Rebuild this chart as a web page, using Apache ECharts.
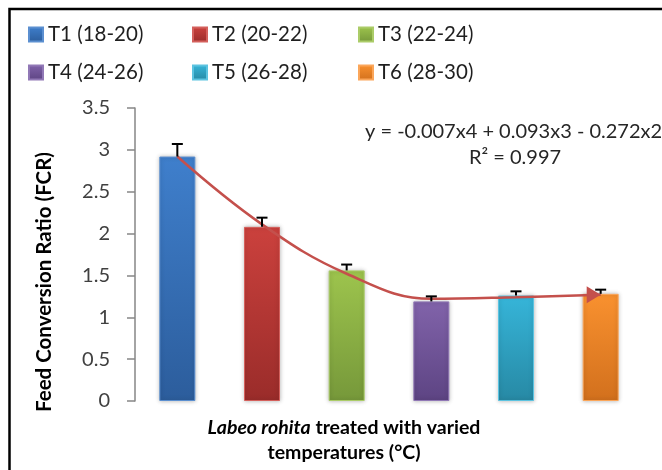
<!DOCTYPE html>
<html>
<head>
<meta charset="utf-8">
<script src="https://cdn.jsdelivr.net/npm/echarts@6/dist/echarts.min.js"></script>
<style>
  html, body { margin: 0; padding: 0; background: #fff; }
  #chart { width: 662px; height: 470px; }
</style>
</head>
<body>
<div id="chart"></div>
<script>
// Treatment groups (temperature ranges, °C)
const categories = ['T1 (18-20)', 'T2 (20-22)', 'T3 (22-24)', 'T4 (24-26)', 'T5 (26-28)', 'T6 (28-30)'];
// Mean feed conversion ratio per treatment
const fcrValues = [2.92, 2.08, 1.56, 1.19, 1.26, 1.28];
// Error bar (upper) per treatment
const errValues = [0.15, 0.11, 0.07, 0.06, 0.05, 0.05];
// Polynomial trend line evaluated at each treatment
const trendValues = [2.92, 2.11, 1.52, 1.22, 1.24, 1.27];
// Trend equation labels
const equationText = 'y = -0.007x4 + 0.093x3 - 0.272x2';
const r2Text = 'R\u00B2 = 0.997';

// Bar colours: [top, bottom, edge]
const palette = [
  ['#3f7fcc', '#2c5d9c', '#5b8fd0'],
  ['#cb413d', '#9a2c2a', '#d4605c'],
  ['#9dc44d', '#76983a', '#abcc68'],
  ['#8163aa', '#5d4483', '#9178b6'],
  ['#36b5d9', '#2789a4', '#5cc3e0'],
  ['#f9912f', '#d2701d', '#fba65a']
];

const FONT = 'Lato, "Open Sans", sans-serif';
const chart = echarts.init(document.getElementById('chart'), null, { renderer: 'canvas' });

function grad(c) {
  return new echarts.graphic.LinearGradient(0, 0, 0, 1, [
    { offset: 0, color: c[0] },
    { offset: 1, color: c[1] }
  ]);
}

const barSeries = categories.map((name, i) => ({
  name: name,
  type: 'bar',
  barWidth: 36,
  barGap: '-100%',
  z: 2,
  itemStyle: {
    color: grad(palette[i]),
    borderColor: palette[i][2],
    borderWidth: 1,
    shadowBlur: 4,
    shadowColor: 'rgba(0,0,0,0.25)'
  },
  data: categories.map((_, j) => (j === i ? fcrValues[i] : '-'))
}));

const trendData = trendValues.map((v, i) => {
  if (i === trendValues.length - 1) {
    return {
      value: v,
      symbol: 'triangle',
      symbolSize: [17, 14],
      symbolRotate: -90,
      symbolOffset: [-7, 0],
      itemStyle: { color: '#c4504c' }
    };
  }
  return v;
});

// One legend entry per treatment, laid out in a 3 x 2 grid
const legendCols = [28, 192, 358];
const legendRows = [24, 62];
const legends = categories.map((name, i) => ({
  data: [name],
  left: legendCols[i % 3],
  top: legendRows[Math.floor(i / 3)],
  itemWidth: 14,
  itemHeight: 14,
  icon: 'rect',
  selectedMode: false,
  padding: 0,
  textStyle: { fontFamily: FONT, fontSize: 20.5, color: '#1f1f1f' }
}));

chart.setOption({
  animation: false,
  backgroundColor: '#fff',
  grid: { left: 135, right: 19, top: 108, bottom: 69 },
  legend: legends,
  xAxis: {
    type: 'category',
    data: categories,
    axisLine: { show: false },
    axisTick: { show: false },
    axisLabel: { show: false },
    splitLine: { show: false }
  },
  yAxis: {
    type: 'value',
    min: 0,
    max: 3.5,
    interval: 0.5,
    axisLine: { show: true, lineStyle: { color: '#868686', width: 1.5 } },
    axisTick: { show: true, length: 8, lineStyle: { color: '#868686', width: 1.5 } },
    axisLabel: { margin: 25, fontFamily: FONT, fontSize: 20, color: '#404040' },
    splitLine: { show: false }
  },
  series: barSeries.concat([
    {
      name: 'trend',
      type: 'line',
      smooth: 0.4,
      symbol: 'none',
      z: 4,
      lineStyle: { color: '#c4504c', width: 2.5 },
      data: trendData
    },
    {
      name: 'error',
      type: 'custom',
      z: 6,
      data: fcrValues.map((v, i) => [i, v, errValues[i]]),
      renderItem: function (params, api) {
        const x = api.value(0);
        const base = api.coord([x, api.value(1)]);
        const top = api.coord([x, api.value(1) + api.value(2)]);
        const style = { stroke: '#000', lineWidth: 2 };
        return {
          type: 'group',
          children: [
            { type: 'line', shape: { x1: base[0], y1: base[1], x2: top[0], y2: top[1] }, style: style },
            { type: 'line', shape: { x1: top[0] - 5.5, y1: top[1], x2: top[0] + 5.5, y2: top[1] }, style: style }
          ]
        };
      }
    }
  ]),
  graphic: [
    {
      type: 'rect', z: 100, silent: true,
      shape: { x: 9.5, y: 9, width: 800, height: 600 },
      style: { fill: 'none', stroke: '#000', lineWidth: 2.5 }
    },
    {
      type: 'text', z: 50, x: 44, y: 282, rotation: Math.PI / 2,
      style: {
        text: 'Feed Conversion Ratio (FCR)', fontFamily: FONT, fontSize: 20.5, fontWeight: 'bold',
        fill: '#000', align: 'center', verticalAlign: 'middle'
      }
    },
    {
      type: 'text', z: 50, x: 344, y: 440,
      style: {
        text: '{i|Labeo rohita}{b| treated with varied}\n{b|temperatures (\u00B0C)}',
        align: 'center', verticalAlign: 'middle',
        rich: {
          i: { fontFamily: FONT, fontSize: 19.5, fontWeight: 'bold', fontStyle: 'italic', fill: '#000', lineHeight: 25 },
          b: { fontFamily: FONT, fontSize: 19.5, fontWeight: 'bold', fill: '#000', lineHeight: 25 }
        }
      }
    },
    {
      type: 'text', z: 50, x: 365, y: 132,
      style: {
        text: equationText, fontFamily: FONT, fontSize: 20, fill: '#262626',
        align: 'left', verticalAlign: 'middle'
      }
    },
    {
      type: 'text', z: 50, x: 515, y: 158,
      style: {
        text: r2Text, fontFamily: FONT, fontSize: 20, fill: '#262626',
        align: 'center', verticalAlign: 'middle'
      }
    }
  ]
});
</script>
</body>
</html>
